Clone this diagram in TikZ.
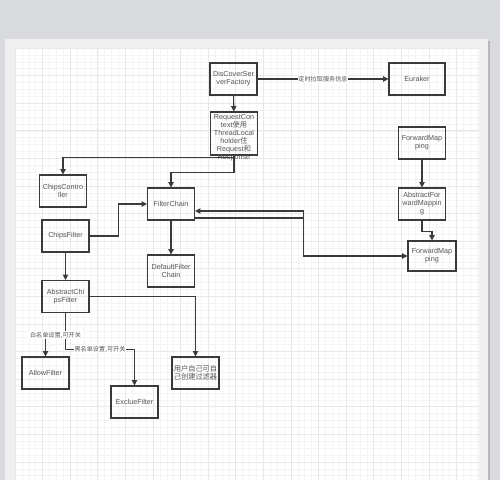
\documentclass[tikz,border=0pt]{standalone}
\usepackage{fontspec}
\setmainfont{Liberation Sans}
\newfontfamily\cjk{Noto Sans CJK SC}
\usetikzlibrary{arrows.meta,calc}
\definecolor{bggray}{RGB}{217,218,222}
\definecolor{panelgray}{RGB}{239,239,239}
\definecolor{gridminor}{RGB}{244,244,244}
\definecolor{gridmajor}{RGB}{232,232,232}
\definecolor{boxline}{RGB}{58,58,58}
\definecolor{boxtext}{RGB}{85,85,85}

\begin{document}
\begin{tikzpicture}[x=0.02cm,y=-0.02cm,
  box/.style={draw=boxline,line width=0.6pt,minimum width=0.94cm,minimum height=0.64cm,
    inner sep=0.5pt,align=center,text=boxtext,font=\fontsize{4.1}{4.5}\selectfont},
  arr/.style={draw=boxline,line width=0.6pt,-{Triangle[length=3pt,width=3pt]}},
  lbl/.style={fill=white,inner sep=0.4pt,text=boxtext,font=\cjk\fontsize{3.5}{4}\selectfont}]
  % Page and grid
  \fill[bggray] (0,0) rectangle (500,480);
  \fill[black!28] (488,41) rectangle (490,480);
  \fill[panelgray] (5,39) rectangle (488,480);
  \fill[white] (15,48) rectangle (479,480);
  \begin{scope}[shift={(15,48)}]
    \draw[gridminor,line width=0.3pt,step=0.138cm] (0,432) grid (464,0);
    \draw[gridmajor,line width=0.4pt,step=0.552cm] (0,432) grid (464,0);
  \end{scope}
  % Discovery
  \node[box] (dcf) at (233.5,79) {DisCoverSer\\verFactory};
  \node[box,minimum width=1.12cm] (eur) at (417,79) {Euraker};
  \draw[arr] (dcf) -- node[lbl] {定时拉取服务信息} (eur);
  \node[box,minimum height=0.86cm] (req) at (234,133.5)
    {\smash{\raisebox{-0.13cm}{\parbox[c]{0.9cm}{\centering RequestCon\\text{\cjk 使用}\\ThreadLocal\\holder{\cjk 住}\\Request{\cjk 和}\\Response}}}};
  \draw[arr] (dcf) -- (req);
  % Controller and filter chain
  \node[box] (ctrl) at (63,191) {ChipsContro\\ller};
  \node[box] (fc) at (171,204) {FilterChain};
  \draw[arr] (req.south) -- ++(0,2) -| (ctrl.north);
  \draw[arr] (req.south) -- ++(0,17) -| (fc.north);
  \node[box] (cf) at (65.5,236) {ChipsFilter};
  \draw[arr] (cf.east) -- ++(29,0) |- (fc.west);
  \node[box] (dfc) at (171,271) {DefaultFilter\\Chain};
  \draw[arr] (fc) -- (dfc);
  % Filters
  \node[box] (acf) at (65.5,296.5) {AbstractChi\\psFilter};
  \draw[arr] (cf) -- (acf);
  \node[box] (allow) at (45.5,373) {AllowFilter};
  \node[box] (exc) at (134.5,402) {ExclueFilter};
  \node[box] (usr) at (195.5,373) {{\cjk 用户自己可自}\\{\cjk 己创建过滤器}};
  \draw[arr] (acf.east) -| (usr.north);
  \draw[arr] (acf.south) -- ++(0,36) -| node[lbl,pos=0.25] {黑名单设置,可开关} (exc.north);
  \draw[arr] (acf.south) -- ++(0,22) -| node[lbl,pos=0.25] {白名单设置,可开关} (allow.north);
  % Forward mapping
  \node[box] (fm1) at (422,143) {ForwardMap\\ping};
  \node[box] (afm) at (422,204) {AbstractFor\\wardMappin\\g};
  \node[box,minimum width=0.96cm,minimum height=0.6cm] (fm2) at (432,256) {ForwardMap\\ping};
  \draw[arr] (fm1) -- (afm);
  \draw[arr] (afm.south) -- ++(0,10.5) -| (fm2.north);
  \draw[arr] ($(fc.east)+(0,14)$) -- ++(108,0) |- (fm2.west);
  \draw[arr] ($(fc.east)+(108,14)$) |- ($(fc.east)+(0,7)$);
\end{tikzpicture}
\end{document}
